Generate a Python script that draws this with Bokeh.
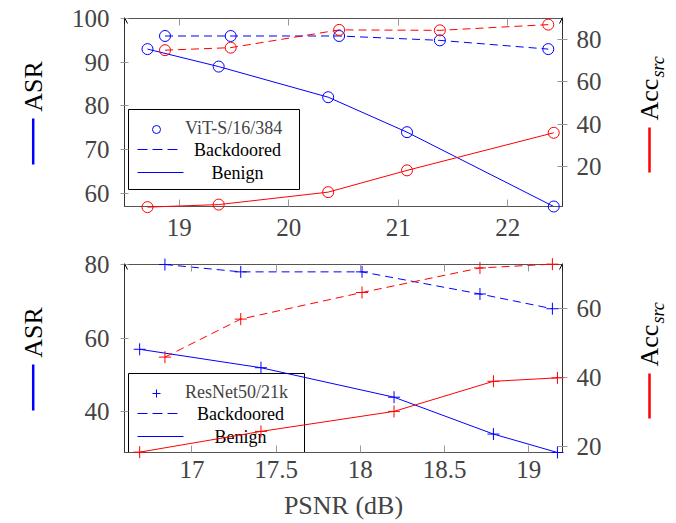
import math
from bokeh.plotting import figure
from bokeh.models import (Range1d, LinearAxis, FixedTicker, NumeralTickFormatter, Legend, LegendItem,
                          Label, Arrow, OpenHead, CustomJSTickFormatter, PolyAnnotation)
from bokeh.layouts import column, row
from bokeh.embed import file_html
from bokeh.resources import INLINE

# ---------------- data ----------------
# Top panel: ViT-S/16/384
vit_benign_psnr = [18.71, 19.36, 20.36, 21.08, 22.42]
vit_benign_asr = [93.0, 89.0, 82.0, 74.0, 57.0]
vit_benign_acc = [0.7, 1.9, 7.8, 18.1, 35.9]
vit_back_psnr = [18.87, 19.47, 20.46, 21.38, 22.37]
vit_back_asr = [96.0, 96.0, 96.0, 95.0, 93.0]
vit_back_acc = [75.0, 76.2, 84.6, 84.4, 87.1]

# Bottom panel: ResNet50/21k
rn_benign_psnr = [16.69, 17.41, 18.20, 18.79, 19.17]
rn_benign_asr = [57.0, 52.0, 44.0, 34.0, 29.0]
rn_benign_acc = [18.5, 24.5, 30.3, 39.0, 40.0]
rn_back_psnr = [16.84, 17.29, 18.01, 18.71, 19.14]
rn_back_asr = [80.0, 78.0, 78.0, 72.0, 68.0]
rn_back_acc = [46.0, 57.0, 64.7, 71.8, 72.9]

top_xticks = [19, 20, 21, 22]
top_lticks = [60, 70, 80, 90, 100]
top_rticks = [20, 40, 60, 80]
bot_xticks = [17, 17.5, 18, 18.5, 19]
bot_lticks = [40, 60, 80]
bot_rticks = [20, 40, 60]

FONT = "'Liberation Serif', 'Times New Roman', serif"
BLUE = "#0000ff"
RED = "#ff0000"
DASH = "8 5"
FRAME_H = 188
LW, MW, RW = 60, 560, 54


def style_axis(ax, ticks, tin, tout, standoff):
    ax.ticker = FixedTicker(ticks=ticks)
    ax.formatter = NumeralTickFormatter(format="0.[0]")
    ax.major_tick_in = tin
    ax.major_tick_out = tout
    ax.minor_tick_line_color = None
    ax.major_tick_line_color = "#999999"
    ax.axis_line_color = "#333333"
    ax.major_label_text_font = FONT
    ax.major_label_text_font_size = "25px"
    ax.major_label_standoff = standoff


def blank_fig(width, height):
    f = figure(width=width, height=height, x_range=Range1d(0, 1), y_range=Range1d(0, 1),
               output_backend="svg", toolbar_location=None,
               x_axis_location=None, y_axis_location=None, min_border=0)
    f.xgrid.visible = False
    f.ygrid.visible = False
    f.outline_line_color = None
    return f


def text_label(x, y, text, **kw):
    opts = dict(x=x, y=y, x_units="screen", y_units="screen", text=text,
                text_font=FONT, text_color="black")
    opts.update(kw)
    return Label(**opts)


def sample_line(xa, xb, y, color, width=1.0):
    return Arrow(start=None, end=None, x_start=xa, y_start=y, x_end=xb, y_end=y,
                 start_units="screen", end_units="screen", line_color=color, line_width=width)


def make_panel(height, top_border, xr, yr, ar, xt, lt, rt, data, marker, msize, name,
               lb, box_w, text_cx, xstand, xlabel=None):
    (bx, by, ba, kx, ky, ka) = data
    p = figure(width=MW, height=height, x_range=Range1d(*xr), y_range=Range1d(*yr),
               output_backend="svg", toolbar_location=None,
               min_border_left=64, min_border_right=58, min_border_top=top_border,
               min_border_bottom=height - top_border - FRAME_H)
    p.extra_y_ranges = {"acc": Range1d(*ar)}
    p.xgrid.visible = False
    p.ygrid.visible = False
    p.outline_line_color = "#555555"

    style_axis(p.xaxis[0], xt, 7, 0, xstand)
    p.xaxis[0].axis_line_color = "#555555"
    if xlabel:
        p.xaxis[0].axis_label = xlabel
        p.xaxis[0].axis_label_text_font = FONT
        p.xaxis[0].axis_label_text_font_size = "26px"
        p.xaxis[0].axis_label_text_font_style = "normal"
        p.xaxis[0].axis_label_standoff = 10
    style_axis(p.yaxis[0], lt, 4, 4, 11)
    rax = LinearAxis(y_range_name="acc")
    style_axis(rax, rt, 5, 5, 9)
    p.add_layout(rax, "right")
    tax = LinearAxis(ticker=FixedTicker(ticks=xt), formatter=CustomJSTickFormatter(code="return ''"),
                     major_tick_in=7, major_tick_out=0, minor_tick_line_color=None,
                     major_tick_line_color="#999999", axis_line_color=None,
                     major_label_text_font_size="1px", major_label_standoff=0)
    p.add_layout(tax, "above")

    # legend box (white panel with black frame, under the data)
    x0, x1, y0, y1 = 4, 4 + box_w, lb, lb + 80
    p.add_layout(PolyAnnotation(xs=[x0, x1, x1, x0], ys=[y0, y0, y1, y1],
                                xs_units="screen", ys_units="screen",
                                fill_color="white", fill_alpha=1.0,
                                line_color="black", line_width=1, line_alpha=1.0,
                                level="underlay"))

    # data renderers
    p.line(kx, ky, line_color=BLUE, line_width=1, line_dash=DASH)
    p.line(bx, by, line_color=BLUE, line_width=1)
    s_back_b = p.scatter(kx, ky, marker=marker, size=msize, line_color=BLUE,
                         fill_color=None, line_width=1, level="overlay")
    p.scatter(bx, by, marker=marker, size=msize, line_color=BLUE, fill_color=None,
              line_width=1, level="overlay")
    p.line(kx, ka, line_color=RED, line_width=1, line_dash=DASH, y_range_name="acc", level="overlay")
    p.line(bx, ba, line_color=RED, line_width=1, y_range_name="acc", level="overlay")
    p.scatter(kx, ka, marker=marker, size=msize, line_color=RED, fill_color=None,
              line_width=1, y_range_name="acc", level="overlay")
    p.scatter(bx, ba, marker=marker, size=msize, line_color=RED, fill_color=None,
              line_width=1, y_range_name="acc", level="overlay")

    # legend: texts first, then the samples (dashed sample as three short strokes)
    yd, ys = lb + 40, lb + 17
    p.add_layout(text_label(text_cx, yd, "Backdoored", text_align="center", text_baseline="middle",
                            text_font_size="18px"))
    for xa in (13, 28, 43):
        p.add_layout(sample_line(xa, xa + 10, yd, BLUE))
    p.add_layout(text_label(text_cx, ys, "Benign", text_align="center", text_baseline="middle",
                            text_font_size="18px"))
    p.add_layout(sample_line(13, 59, ys, BLUE))
    # legend entry with the marker
    leg_mark = Legend(items=[LegendItem(label=name, renderers=[s_back_b])],
                      location=(9, lb + 50), label_text_font=FONT, label_text_font_size="18px",
                      glyph_width=46, glyph_height=20, label_height=20, label_standoff=6,
                      padding=7, margin=0, border_line_color=None, background_fill_alpha=0.0)
    p.add_layout(leg_mark)

    # axis arrow heads
    fw = MW - 64 - 58
    for xa in (0, fw):
        p.add_layout(Arrow(end=OpenHead(size=6, line_width=1, line_color="black"),
                           x_start=xa, y_start=FRAME_H - 6, x_end=xa, y_end=FRAME_H + 1,
                           start_units="screen", end_units="screen", line_color="black", line_width=1))
    return p


def left_label(height):
    f = blank_fig(LW, height)
    f.add_layout(text_label(32.5, 120, "ASR", angle=math.pi / 2, text_align="center",
                            text_baseline="middle", text_font_size="26px"))
    f.add_layout(Arrow(start=None, end=None, x_start=32.7, y_start=42, x_end=32.7, y_end=88,
                       start_units="screen", end_units="screen", line_color=BLUE, line_width=2.5))
    return f


def right_label(height):
    f = blank_fig(RW, height)
    f.add_layout(text_label(29, 86, "Acc", angle=math.pi / 2, text_align="left",
                            text_baseline="middle", text_font_size="26px"))
    f.add_layout(text_label(37, 129, "src", angle=math.pi / 2, text_align="left",
                            text_baseline="middle", text_font_size="18px", text_font_style="italic"))
    f.add_layout(Arrow(start=None, end=None, x_start=29, y_start=34, x_end=29, y_end=79,
                       start_units="screen", end_units="screen", line_color=RED, line_width=2.5))
    return f


H1, H2 = 244, 279
p1 = make_panel(H1, 18, (18.5, 22.5), (57, 100), (1, 90), top_xticks, top_lticks, top_rticks,
                (vit_benign_psnr, vit_benign_asr, vit_benign_acc, vit_back_psnr, vit_back_asr, vit_back_acc),
                "circle", 11, "ViT-S/16/384", 17, 171, 113, 12)
p2 = make_panel(H2, 20, (16.6, 19.2), (29, 80), (18.4, 72.8), bot_xticks, bot_lticks, bot_rticks,
                (rn_benign_psnr, rn_benign_asr, rn_benign_acc, rn_back_psnr, rn_back_asr, rn_back_acc),
                "cross", 12, "ResNet50/21k", -1, 176, 116, 8, xlabel="PSNR (dB)")

layout = column(row(left_label(H1), p1, right_label(H1)),
                row(left_label(H2), p2, right_label(H2)))
open("out.html", "w").write(file_html(layout, INLINE))
